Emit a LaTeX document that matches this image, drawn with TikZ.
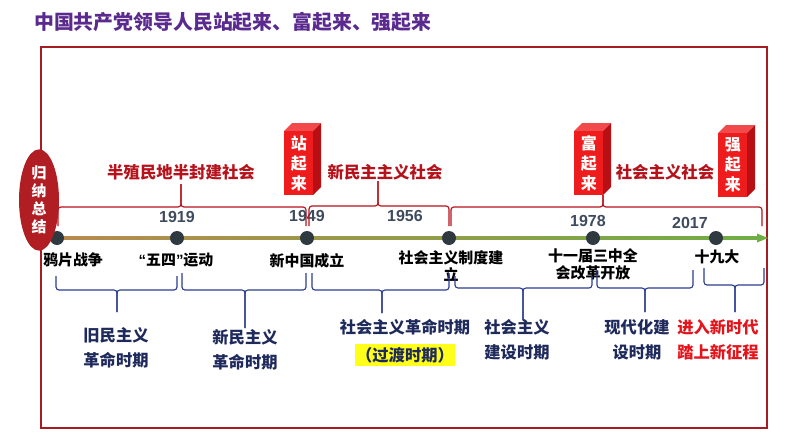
\documentclass[tikz,border=0pt]{standalone}
\usepackage{fontspec}
\setmainfont{Noto Sans CJK SC}
\newfontfamily\yearfont{Liberation Sans}
\usetikzlibrary{shapes.geometric}
\definecolor{framered}{HTML}{A51C23}
\definecolor{titlepurple}{HTML}{5B2A8E}
\definecolor{labelred}{HTML}{B5121B}
\definecolor{brightred}{HTML}{E3141B}
\definecolor{navy}{HTML}{1F2A5C}
\definecolor{bracenavy}{HTML}{2A3C8F}
\definecolor{yeargray}{HTML}{3E4B5E}
\definecolor{dotgray}{HTML}{2F3940}
\definecolor{tltan}{HTML}{B78A4E}
\definecolor{tlolive}{HTML}{A8A455}
\definecolor{tlgreen}{HTML}{6FAE45}
\definecolor{cubefrontc}{HTML}{EE1C1C}
\definecolor{cubetopc}{HTML}{F24A4A}
\definecolor{cubesidec}{HTML}{B80F14}
\definecolor{ellred}{HTML}{B01E23}
\definecolor{hlyellow}{HTML}{FFFF1A}
\newcommand{\tlbrace}[7]{%
  \draw[#1,rounded corners=2.2pt] (#2,#5) -- (#2,#6) -- (#4,#6) -- (#4,#7);
  \draw[#1,rounded corners=2.2pt] (#4,#7) -- (#4,#6) -- (#3,#6) -- (#3,#5);}
\newcommand{\redcube}[4]{%
  \fill[cubetopc] (#2,#3) -- (#2+8,#3-8) -- (#2+37,#3-8) -- (#2+29,#3) -- cycle;
  \fill[cubesidec] (#2+29,#3) -- (#2+37,#3-8) -- (#2+37,#3+56) -- (#2+29,#3+64) -- cycle;
  \node[cubefront] (#1) at (#2,#3) {#4};}
\begin{document}
\begin{tikzpicture}[x=0.75pt,y=-0.75pt,
  dot/.style={circle,fill=dotgray,inner sep=0pt,minimum size=10.5pt},
  yearlbl/.style={font=\yearfont\bfseries\fontsize{12}{14}\selectfont,text=yeargray},
  eventlbl/.style={font=\bfseries\fontsize{11.2}{12.8}\selectfont,align=center,inner sep=0pt},
  eralbl/.style={font=\bfseries\fontsize{12.3}{14}\selectfont,text=labelred,inner sep=0pt},
  periodlbl/.style={font=\bfseries\fontsize{12.2}{18.5}\selectfont,text=navy,align=center,inner sep=0pt},
  cubefront/.style={fill=cubefrontc,anchor=north west,minimum width=21.75pt,minimum height=48pt,
    inner sep=0pt,text=white,align=center,font=\bfseries\fontsize{12}{15}\selectfont},
  redbrace/.style={draw=labelred,line width=0.9pt},
  bluebrace/.style={draw=bracenavy,line width=0.8pt}]
\useasboundingbox (0,0) rectangle (794,447);
% title
\node[anchor=west,inner sep=0pt,text=titlepurple,font=\bfseries\fontsize{14.9}{16}\selectfont] (title) at (34,22) {中国共产党领导人民站起来、富起来、强起来};
% frame
\draw[framered,line width=1.6pt] (41,47) rectangle (767,428);
% timeline
\coordinate (tlstart) at (57,238);
\coordinate (tlend) at (768,238);
\shade[left color=tltan,middle color=tlolive,right color=tlgreen] (57,236.3) rectangle (759,239.7);
\fill[tlgreen] (tlend) -- (757,233.5) -- (757,242.5) -- cycle;
% dots
\node[dot] (d1) at (57,238) {};
\node[dot] (d2) at (177,238) {};
\node[dot] (d3) at (307,238) {};
\node[dot] (d4) at (449,238) {};
\node[dot] (d5) at (593,238) {};
\node[dot] (d6) at (716,238) {};
% years
\node[yearlbl] (y1919) at (177,217) {1919};
\node[yearlbl] (y1949) at (307,216) {1949};
\node[yearlbl] (y1956) at (405,216) {1956};
\node[yearlbl] (y1978) at (588,221) {1978};
\node[yearlbl] (y2017) at (690,223) {2017};
% event labels
\node[eventlbl] (e1) at (73,260) {鸦片战争};
\node[eventlbl] (e2) at (176,260) {{\yearfont “}五四{\yearfont ”}运动};
\node[eventlbl] (e3) at (307,261) {新中国成立};
\node[eventlbl] (e4) at (451,266) {社会主义制度建\\立};
\node[eventlbl] (e5) at (593,264) {十一届三中全\\会改革开放};
\node[eventlbl] (e6) at (717,257) {十九大};
% red braces
\tlbrace{redbrace}{58}{306}{181}{226}{207}{184}
\tlbrace{redbrace}{309}{449}{378}{226}{206}{181}
\tlbrace{redbrace}{451}{762}{603}{226}{207}{195}
% era labels
\node[eralbl] (era1) at (181,172) {半殖民地半封建社会};
\node[eralbl] (era2) at (385,172) {新民主主义社会};
\node[eralbl] (era3) at (665,172) {社会主义社会};
% cubes
\redcube{c1}{284}{131}{站\\起\\来}
\redcube{c2}{574}{131}{富\\起\\来}
\redcube{c3}{718}{133}{强\\起\\来}
% summary ellipse
\node[ellipse,fill=ellred,minimum width=30pt,minimum height=76pt,inner sep=0pt,text=white,
  align=center,font=\bfseries\fontsize{11.2}{13.5}\selectfont] (sum) at (39,200) {归\\纳\\总\\结};
% blue braces
\tlbrace{bluebrace}{56}{177}{117}{276}{290}{312}
\tlbrace{bluebrace}{182}{306}{245}{273}{290}{328}
\tlbrace{bluebrace}{312}{449}{382}{273}{290}{313}
\tlbrace{bluebrace}{455}{592}{523}{276}{288}{320}
\tlbrace{bluebrace}{597}{693}{645}{270}{288}{312}
\tlbrace{bluebrace}{704}{764}{735}{268}{285}{312}
% period labels
\node[periodlbl] (p1) at (116,348) {旧民主义\\革命时期};
\node[periodlbl] (p2) at (245,350) {新民主义\\革命时期};
\node[periodlbl] (p3) at (405,327) {社会主义革命时期};
\node[periodlbl,fill=hlyellow,inner xsep=1pt,inner ysep=2pt] (p3b) at (405,355) {（过渡时期）};
\node[periodlbl] (p4) at (517,340) {社会主义\\建设时期};
\node[periodlbl] (p5) at (637,340) {现代化建\\设时期};
\node[periodlbl,text=brightred] (p6) at (718,340) {进入新时代\\踏上新征程};
\end{tikzpicture}
\end{document}
